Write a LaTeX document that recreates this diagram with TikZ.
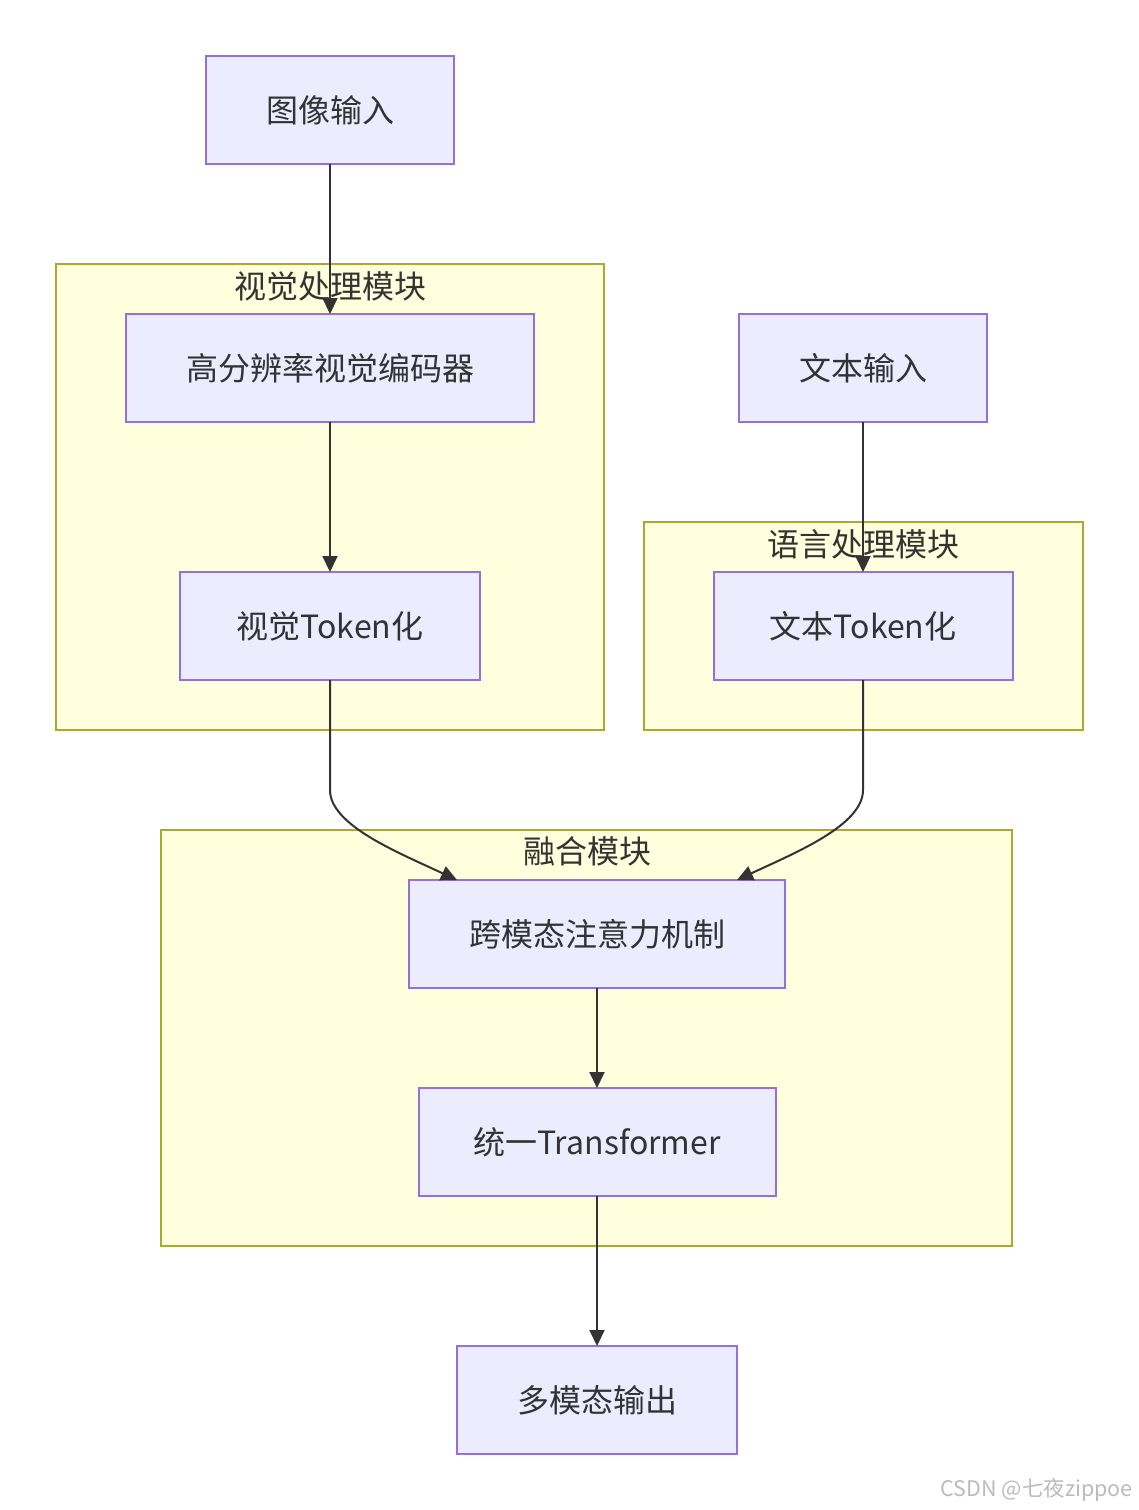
\documentclass[tikz,border=0pt]{standalone}
\usepackage{fontspec}
\setmainfont{Noto Sans CJK SC}
\usetikzlibrary{arrows.meta}
\definecolor{nodefill}{HTML}{ECECFF}
\definecolor{nodestroke}{HTML}{9370DB}
\definecolor{clfill}{HTML}{FFFFDE}
\definecolor{clstroke}{HTML}{AAAA33}
\definecolor{txt}{HTML}{333333}
\definecolor{wm}{HTML}{BBBBBB}
\tikzset{
  box/.style={draw=nodestroke, fill=nodefill, line width=2pt, inner sep=0pt, outer sep=0pt,
    text=txt, font=\fontsize{32}{36}\selectfont, minimum height=108pt},
  cluster/.style={draw=clstroke, fill=clfill, line width=2pt},
  cltitle/.style={text=txt, font=\fontsize{32}{36}\selectfont, inner sep=0pt},
  edge/.style={draw=txt, line width=2pt, -{Triangle[length=16pt,width=15pt]}},
}
\begin{document}
\begin{tikzpicture}[x=1pt,y=-1pt]
\useasboundingbox (0,0) rectangle (1138,1510);
% clusters
\draw[cluster] (56,264) rectangle (604,730);
\draw[cluster] (644,522) rectangle (1083,730);
\draw[cluster] (161,830) rectangle (1012,1246);
\node[cltitle] (t1) at (330,286) {视觉处理模块};
\node[cltitle] (t2) at (863,544) {语言处理模块};
\node[cltitle] (t3) at (587,851) {融合模块};
% nodes
\node[box, minimum width=248pt] (img) at (330,110) {图像输入};
\node[box, minimum width=408pt] (venc) at (330,368) {高分辨率视觉编码器};
\node[box, minimum width=300pt] (vtok) at (330,626) {视觉Token化};
\node[box, minimum width=248pt] (tin) at (863,368) {文本输入};
\node[box, minimum width=299pt] (ttok) at (863,626) {文本Token化};
\node[box, minimum width=376pt] (cross) at (597,934) {跨模态注意力机制};
\node[box, minimum width=357pt] (uni) at (597,1142) {统一Transformer};
\node[box, minimum width=280pt] (out) at (597,1400) {多模态输出};
% edges
\draw[edge] (img) -- (venc);
\draw[edge] (venc) -- (vtok);
\draw[edge] (tin) -- (ttok);
\draw[edge] (vtok.south) -- ++(0,110) .. controls +(0,35) and +(-60,-28) .. ([xshift=48pt]cross.north west);
\draw[edge] (ttok.south) -- ++(0,110) .. controls +(0,35) and +(60,-28) .. ([xshift=-48pt]cross.north east);
\draw[edge] (cross) -- (uni);
\draw[edge] (uni) -- (out);
% watermark
\node[text=wm, font=\fontsize{21.5}{24}\selectfont, anchor=east, inner sep=0pt] (wmk) at (1133,1490) {CSDN @七夜zippoe};
\end{tikzpicture}
\end{document}
